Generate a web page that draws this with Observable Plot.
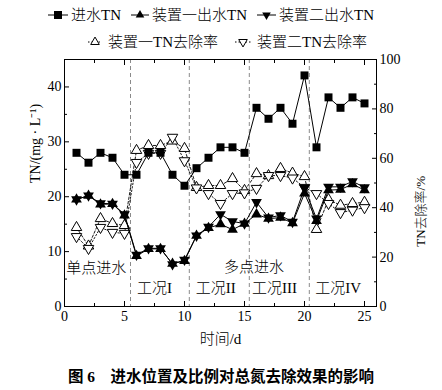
<!DOCTYPE html>
<html><head><meta charset="utf-8">
<script src="https://cdn.jsdelivr.net/npm/d3@7"></script>
<script src="https://cdn.jsdelivr.net/npm/@observablehq/plot@0.6"></script>
<style>
body{margin:0;background:#fff;font-family:"Liberation Serif","Noto Sans CJK SC",serif;color:#000;}
#wrap{width:442px;height:390px;position:relative;overflow:hidden;background:#fff}
#legend{position:relative;height:50px;}
.li{position:absolute;font-size:15px;line-height:18px;height:18px;white-space:nowrap;font-weight:300;}
.li svg{position:absolute;top:3px;}
.li span{position:absolute;top:0;}
#chart svg{overflow:visible;display:block}
#caption{height:39px;line-height:22px;padding-top:15px;box-sizing:border-box;text-align:center;font-size:15.5px;font-weight:bold;font-family:"Liberation Serif","Noto Sans CJK SC",serif;}
</style></head>
<body><div id="wrap"><div id="legend"></div><div id="chart"></div><div id="caption">图 6　进水位置及比例对总氮去除效果的影响</div></div>
<script>
// ---- data ----
const days = [1,2,3,4,5,6,7,8,9,10,11,12,13,14,15,16,17,18,19,20,21,22,23,24,25];
const inflowTN = [28.0,26.2,28.0,27.1,24.0,24.0,28.0,28.0,24.0,22.0,25.2,27.1,29.0,29.0,28.0,36.2,34.2,36.2,33.3,42.1,29.0,38.1,36.2,38.1,37.0];
const device1TN = [19.5,20.2,18.6,18.7,16.6,9.2,10.5,10.5,7.8,8.3,12.9,14.3,15.0,14.0,15.1,16.8,16.0,16.2,15.2,20.6,15.6,21.2,21.3,22.3,21.2];
const device2TN = [19.5,20.2,18.8,18.7,16.8,9.4,10.6,10.6,7.7,8.5,12.9,14.5,16.8,15.5,15.1,19.0,16.2,16.6,15.4,21.6,16.0,21.8,21.8,22.8,21.7];
const removal1 = [32.0,24.5,35.6,33.6,32.8,63.2,65.2,65.2,67.0,64.0,48.2,49.0,49.0,51.8,47.0,53.8,53.0,55.9,54.0,52.6,31.2,43.3,41.0,41.7,42.2];
const removal2 = [28.3,23.5,32.0,30.0,29.6,58.3,62.0,62.0,68.5,59.0,48.0,45.7,41.7,45.7,46.0,47.8,53.0,53.0,52.0,48.2,45.7,41.7,38.0,39.0,40.0];
const phaseBoundaries = [5.5,10.4,15.4,20.4];
const annotations = [
  {label:"单点进水", d:2.65, v:6.9},
  {label:"多点进水", d:15.8, v:7.1},
  {label:"工况I", d:7.5, v:3.3},
  {label:"工况II", d:12.6, v:3.3},
  {label:"工况III", d:17.5, v:3.3},
  {label:"工况IV", d:22.8, v:3.3}
];
const xTicks = [0,5,10,15,20,25];
const xMinor = [2.5,7.5,12.5,17.5,22.5];
const yTicks = [0,10,20,30,40];
const yMinor = [5,15,25,35];
const rTicks = [0,20,40,60,80,100];
const rMinor = [10,30,50,70,90];
const seriesNames = ["进水TN","装置一出水TN","装置二出水TN","装置一TN去除率","装置二TN去除率"];

const yMax = 45, rMax = 100, k = yMax / rMax;

const rows = days.map((d,i)=>({d, inflow:inflowTN[i], o1:device1TN[i], o2:device2TN[i], r1:removal1[i], r2:removal2[i]}));

const triDown = {draw(ctx, size){
  const y = -Math.sqrt(size / (Math.sqrt(3) * 3));
  ctx.moveTo(0, -y * 2); ctx.lineTo(-Math.sqrt(3) * y, y); ctx.lineTo(Math.sqrt(3) * y, y); ctx.closePath();
}};

const font = '"Liberation Serif","Noto Sans CJK SC",serif';
const blank = () => "";

const chart = Plot.plot({
  width: 442, height: 301,
  marginLeft: 64, marginRight: 66, marginTop: 9, marginBottom: 45,
  style: {fontFamily: font, fontSize: "14px", color: "#000", background: "#fff"},
  x: {domain: [0, 26], label: null},
  y: {domain: [0, yMax], label: null},
  marks: [
    Plot.ruleX(phaseBoundaries, {stroke: "#8a8a8a", strokeDasharray: "4,3", strokeWidth: 1}),
    // removal rates
    Plot.line(rows, {x: "d", y: r => r.r1 * k, stroke: "#000", strokeWidth: 0.9, strokeDasharray: "2.5,2"}),
    Plot.line(rows, {x: "d", y: r => r.r2 * k, stroke: "#000", strokeWidth: 0.9, strokeDasharray: "1.5,2"}),
    Plot.dot(rows, {x: "d", y: r => r.r1 * k, symbol: "triangle", r: 3.9, fill: "#fff", stroke: "#000", strokeWidth: 1}),
    Plot.dot(rows, {x: "d", y: r => r.r2 * k, symbol: triDown, r: 3.9, fill: "#fff", stroke: "#000", strokeWidth: 1}),
    // outflow
    Plot.line(rows, {x: "d", y: "o1", stroke: "#000", strokeWidth: 1}),
    Plot.line(rows, {x: "d", y: "o2", stroke: "#000", strokeWidth: 1}),
    Plot.dot(rows, {x: "d", y: "o1", symbol: "triangle", r: 4, fill: "#000", stroke: "none"}),
    Plot.dot(rows, {x: "d", y: "o2", symbol: triDown, r: 4, fill: "#000", stroke: "none"}),
    // inflow
    Plot.line(rows, {x: "d", y: "inflow", stroke: "#000", strokeWidth: 1}),
    Plot.dot(rows, {x: "d", y: "inflow", symbol: "square", r: 4.5, fill: "#000", stroke: "none"}),
    // annotations
    Plot.text(annotations, {x: "d", y: "v", text: "label", fontSize: 15, fill: "#000", fontWeight: 300}),
    Plot.frame({stroke: "#000", strokeWidth: 1}),
    // axes
    Plot.axisX({anchor: "bottom", ticks: xTicks, tickSize: -5, tickPadding: 10, fontSize: 14, label: null}),
    Plot.axisX({anchor: "bottom", ticks: xMinor, tickSize: -3, tickFormat: blank, label: null}),
    Plot.axisX({anchor: "top", ticks: xTicks, tickSize: -5, tickFormat: blank, label: null}),
    Plot.axisX({anchor: "top", ticks: xMinor, tickSize: -3, tickFormat: blank, label: null}),
    Plot.axisY({anchor: "left", ticks: yTicks, tickSize: -5, tickPadding: 8, fontSize: 14, label: null}),
    Plot.axisY({anchor: "left", ticks: yMinor, tickSize: -3, tickFormat: blank, label: null}),
    Plot.axisY({anchor: "right", ticks: rTicks.map(v => v * k), tickFormat: v => Math.round(v / k), tickSize: -5, tickPadding: 8, fontSize: 14, label: null}),
    Plot.axisY({anchor: "right", ticks: rMinor.map(v => v * k), tickSize: -3, tickFormat: blank, label: null}),
    Plot.text(["TN/(mg · L⁻¹)"], {frameAnchor: "left", dx: -29, rotate: -90, fontSize: 14, fill: "#000"}),
    Plot.text(["TN去除率/%"], {frameAnchor: "right", dx: 44, dy: -7, rotate: -90, fontSize: 13, fill: "#000", fontWeight: 300}),
    Plot.text(["时间/d"], {frameAnchor: "bottom", dy: 37, fontSize: 15, fill: "#000", fontWeight: 300})
  ]
});
document.getElementById("chart").appendChild(chart);

// ---- legend ----
function swatch(kind, w){
  const h = 12, cy = 6, cx = w / 2;
  let line = "", sym = "";
  const dash = (kind === "r1" || kind === "r2") ? ' stroke-dasharray="1.5,2"' : '';
  line = `<line x1="0" y1="${cy}" x2="${w}" y2="${cy}" stroke="#000" stroke-width="1"${dash}/>`;
  const s = 4.3;
  if (kind === "sq") sym = `<rect x="${cx-4}" y="${cy-4}" width="8" height="8" fill="#000"/>`;
  if (kind === "up") sym = `<path d="M${cx},${cy-s*1.15}L${cx+s},${cy+s*0.58}L${cx-s},${cy+s*0.58}Z" fill="#000"/>`;
  if (kind === "down") sym = `<path d="M${cx},${cy+s*1.15}L${cx+s},${cy-s*0.58}L${cx-s},${cy-s*0.58}Z" fill="#000"/>`;
  if (kind === "r1") sym = `<path d="M${cx},${cy-s*1.15}L${cx+s},${cy+s*0.58}L${cx-s},${cy+s*0.58}Z" fill="#fff" stroke="#000"/>`;
  if (kind === "r2") sym = `<path d="M${cx},${cy+s*1.15}L${cx+s},${cy-s*0.58}L${cx-s},${cy-s*0.58}Z" fill="#fff" stroke="#000"/>`;
  return `<svg width="${w}" height="${h}">${line}${sym}</svg>`;
}
const legendItems = [
  {kind:"sq", left:48, sw:20, top:6, name:seriesNames[0]},
  {kind:"up", left:131, sw:18, top:6, name:seriesNames[1]},
  {kind:"down", left:257, sw:19, top:6, name:seriesNames[2]},
  {kind:"r1", left:88, sw:14, top:33, name:seriesNames[3]},
  {kind:"r2", left:235, sw:16, top:33, name:seriesNames[4]}
];
const lg = document.getElementById("legend");
legendItems.forEach(it => {
  const div = document.createElement("div");
  div.className = "li";
  div.style.left = it.left + "px";
  div.style.top = it.top + "px";
  div.innerHTML = swatch(it.kind, it.sw) + `<span style="left:${it.sw + (it.kind==="r1"||it.kind==="r2" ? 6 : 3)}px">${it.name}</span>`;
  lg.appendChild(div);
});
</script>
</body></html>
